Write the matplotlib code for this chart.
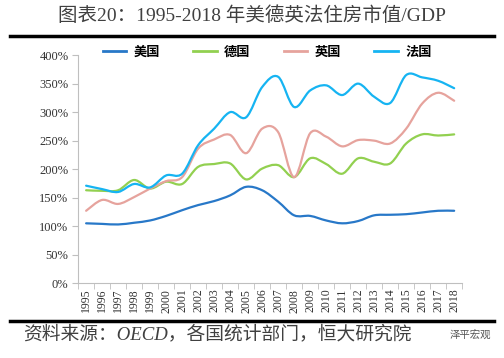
import matplotlib
matplotlib.use("Agg")
import matplotlib.pyplot as plt
from matplotlib.path import Path
from matplotlib.patches import PathPatch
from matplotlib.lines import Line2D
import numpy as np

plt.rcParams['font.family'] = ['Liberation Serif', 'Noto Sans CJK SC', 'DejaVu Sans']

years = [str(y) for y in range(1995, 2019)]
us = [105, 104, 103, 106, 110, 118, 128, 137, 144, 154, 169, 163, 143, 119, 118,
      110, 105, 109, 119, 120, 121, 124, 127, 127]
de = [163, 162, 163, 181, 166, 178, 174, 204, 209, 210, 182, 201, 207, 186, 219,
      209, 192, 219, 213, 210, 245, 261, 259, 261]
uk = [127, 146, 139, 151, 166, 179, 186, 236, 252, 260, 228, 271, 265, 186, 263,
      257, 240, 251, 250, 245, 271, 315, 334, 320]
fr = [171, 165, 160, 174, 168, 189, 192, 242, 271, 300, 291, 344, 362, 309, 338,
      347, 330, 350, 327, 316, 365, 361, 355, 342]
names = ['美国', '德国', '英国', '法国']
colors = ['#2878C8', '#92D050', '#E6A39D', '#16B4F2']


def smooth_path(xs, ys):
    # bezier through the points, roughly like excel's smoothed line
    pts = np.column_stack([xs, ys]).astype(float)
    n = len(pts)
    verts = [pts[0]]
    codes = [Path.MOVETO]
    for i in range(n - 1):
        p0 = pts[i - 1] if i > 0 else pts[i]
        p1 = pts[i]
        p2 = pts[i + 1]
        p3 = pts[i + 2] if i + 2 < n else pts[i + 1]
        c1 = p1 + (p2 - p0) / 6.0
        c2 = p2 - (p3 - p1) / 6.0
        verts += [c1, c2, p2]
        codes += [Path.CURVE4] * 3
    return Path(verts, codes)


fig = plt.figure(figsize=(5.04, 3.58), dpi=100)
ax = fig.add_axes([0.155, 0.209, 0.762, 0.637])

x = np.arange(len(years))
for vals, c in zip([us, de, uk, fr], colors):
    ax.add_patch(PathPatch(smooth_path(x, vals), fill=False, edgecolor=c,
                           lw=1.6, capstyle='round', joinstyle='round'))

ax.set_xlim(-0.5, len(years) - 0.5)
ax.set_ylim(0, 400)
ax.set_yticks(range(0, 401, 50))
ax.set_yticklabels([f'{v}%' for v in range(0, 401, 50)], fontsize=9, color='#333333')
ax.set_xticks(x)
ax.set_xticklabels(years, rotation=90, fontsize=8.5, color='#333333')
ax.set_xticks(np.arange(-0.5, len(years), 1), minor=True)
ax.tick_params(axis='x', which='major', length=0, pad=4)
ax.tick_params(axis='x', which='minor', length=4, color='#BFBFBF')
ax.tick_params(axis='y', length=4, color='#BFBFBF', pad=3)
for s in ['top', 'right']:
    ax.spines[s].set_visible(False)
ax.spines['left'].set_color('#BFBFBF')
ax.spines['bottom'].set_color('#BFBFBF')

handles = [Line2D([0], [0], color=c, lw=2) for c in colors]
fig.legend(handles, names, loc='center', bbox_to_anchor=(0.53, 0.855), ncol=4,
           frameon=False, handlelength=1.8, handletextpad=0.55,
           columnspacing=2.5, prop={'family': ['Noto Sans CJK SC'], 'weight': 'bold', 'size': 9.5})

fig.text(0.5, 0.955, '图表20：1995-2018 年美德英法住房市值/GDP', ha='center', va='center',
         fontsize=14, color='#404040')
fig.add_artist(Line2D([0.02, 0.98], [0.9, 0.9], color='black', lw=2.5))
fig.add_artist(Line2D([0.02, 0.98], [0.103, 0.103], color='black', lw=2.5))
fig.text(0.045, 0.066, '资料来源：OECD，各国统计部门，恒大研究院', ha='left', va='center',
         fontsize=13.5, style='italic', color='#404040')
fig.text(0.975, 0.066, '泽平宏观', ha='right', va='center', fontsize=7.5, color='#555555',
         family=['Noto Sans CJK SC'])

fig.savefig('out.png', dpi=100)
